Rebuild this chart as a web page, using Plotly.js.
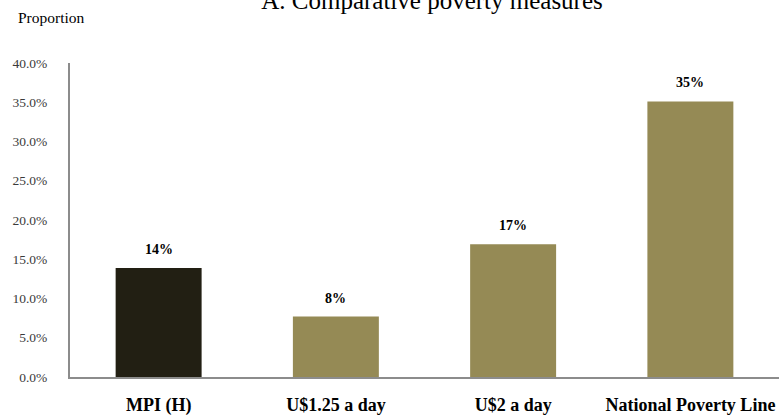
<!DOCTYPE html>
<html>
<head>
<meta charset="utf-8">
<script src="https://cdn.plot.ly/plotly-3.0.1.min.js"></script>
<style>html,body{margin:0;padding:0;background:#fff;}</style>
</head>
<body>
<div id="chart" style="width:779px;height:416px;"></div>
<script>
var categories = ["MPI (H)", "U$1.25 a day", "U$2 a day", "National Poverty Line"];
var values = [13.9, 7.7, 16.9, 35.1];
var valueLabels = ["14%", "8%", "17%", "35%"];
var barColors = ["#221f13", "#958a55", "#958a55", "#958a55"];
var yTicks = [0, 5, 10, 15, 20, 25, 30, 35, 40];

var serif = "Liberation Serif, Times New Roman, serif";

var trace = {
  type: "bar",
  x: categories,
  y: values,
  cliponaxis: false,
  marker: {color: barColors, line: {width: 0}},
  width: 0.485,
  hoverinfo: "none"
};

var annotations = categories.map(function(c, i) {
  return {
    x: c, y: values[i], xref: "x", yref: "y",
    text: "<b>" + valueLabels[i] + "</b>",
    showarrow: false, yanchor: "bottom", yshift: 9,
    font: {family: serif, size: 14, color: "#000"}
  };
});

annotations.push({
  text: "Proportion",
  xref: "paper", yref: "paper",
  x: (16 - 70) / 709, xanchor: "left",
  y: 1 + (63 - 17) / 314, yanchor: "middle",
  showarrow: false,
  font: {family: serif, size: 15.5, color: "#000"}
});

var layout = {
  width: 779,
  height: 416,
  margin: {l: 70, r: 0, t: 63, b: 39},
  paper_bgcolor: "#fff",
  plot_bgcolor: "#fff",
  showlegend: false,
  title: {
    text: "A. Comparative poverty measures",
    font: {family: serif, size: 25, color: "#000"},
    x: 432/779, xanchor: "center",
    yref: "container", y: 1 - 9/416, yanchor: "bottom"
  },
  xaxis: {
    type: "category",
    showline: true, linecolor: "#8c8c8c", linewidth: 2,
    showgrid: false, zeroline: false,
    ticks: "",
    tickfont: {family: serif, size: 18, color: "#000", weight: "bold"},
    ticklabelstandoff: 10,
    range: [-0.5, 3.5],
    fixedrange: true
  },
  yaxis: {
    range: [0, 40],
    tickvals: yTicks,
    ticktext: yTicks.map(function(v){return v.toFixed(1) + "%";}),
    showline: true, linecolor: "#8c8c8c", linewidth: 2,
    showgrid: false, zeroline: false,
    ticks: "",
    ticklabelstandoff: 18,
    tickfont: {family: serif, size: 13.5, color: "#3a3a3a"},
    fixedrange: true
  },
  annotations: annotations,
  bargap: 0.515
};

Plotly.newPlot("chart", [trace], layout, {displayModeBar: false, staticPlot: true});
</script>
</body>
</html>
